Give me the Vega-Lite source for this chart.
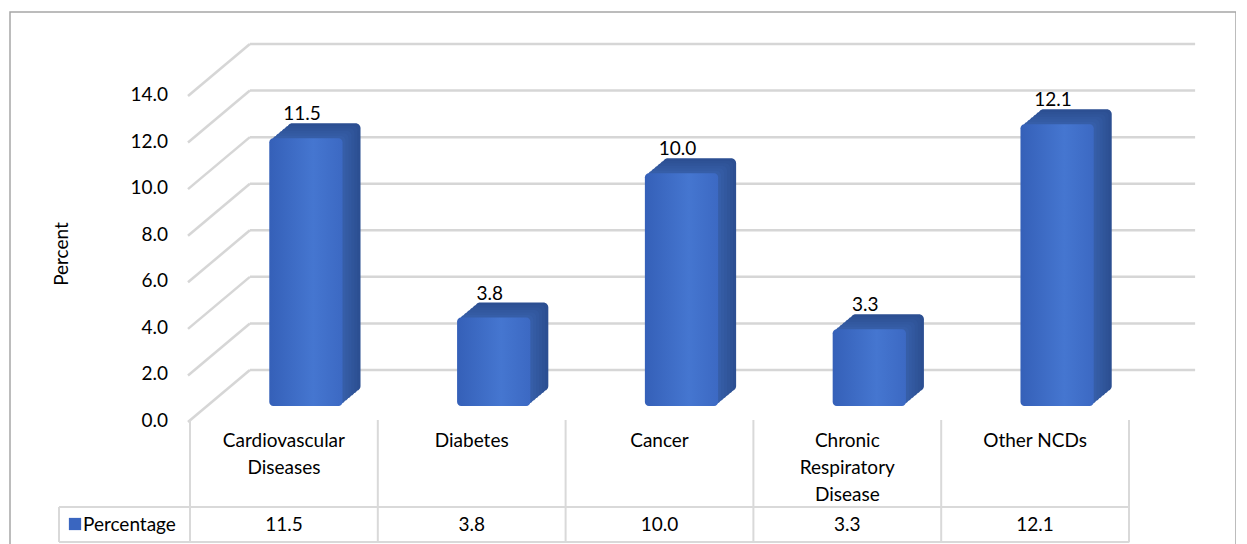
{
  "$schema": "https://vega.github.io/schema/vega-lite/v6.json",
  "autosize": {"type": "none"},
  "padding": {"left": 10, "top": 12, "right": 0, "bottom": 0},
  "width": 1226,
  "height": 540,
  "background": "white",
  "config": {
    "view": {"stroke": "#A6A6A6", "strokeWidth": 1.5},
    "font": "Lato",
    "text": {"font": "Lato", "fontSize": 19, "color": "#000000"}
  },
  "datasets": {
    "bars": [
      {"cat": "Cardiovascular Diseases", "label": "Cardiovascular\nDiseases", "value": 11.5},
      {"cat": "Diabetes", "label": "Diabetes", "value": 3.8},
      {"cat": "Cancer", "label": "Cancer", "value": 10.0},
      {"cat": "Chronic Respiratory Disease", "label": "Chronic\nRespiratory\nDisease", "value": 3.3},
      {"cat": "Other NCDs", "label": "Other NCDs", "value": 12.1}
    ],
    "ticks": [{"t": 0}, {"t": 2}, {"t": 4}, {"t": 6}, {"t": 8}, {"t": 10}, {"t": 12}, {"t": 14}]
  },
  "layer": [
    {
      "data": {"name": "ticks"},
      "mark": {"type": "rule", "color": "#D6D6D6", "strokeWidth": 2.5, "yOffset": -36, "xOffset": 60, "x2Offset": 160},
      "encoding": {
        "x": {"datum": "Cardiovascular Diseases", "type": "nominal", "bandPosition": 0,
              "scale": {"domain": ["Cardiovascular Diseases", "Diabetes", "Cancer", "Chronic Respiratory Disease", "Other NCDs"], "range": [180, 1119], "paddingInner": 0, "paddingOuter": 0},
              "axis": null},
        "x2": {"datum": "Other NCDs"},
        "y": {"field": "t", "type": "quantitative",
              "scale": {"domain": [0, 14], "range": [394, 68], "nice": false, "zero": false},
              "axis": null}
      }
    },
    {
      "data": {"name": "ticks"},
      "mark": {"type": "rule", "color": "#D6D6D6", "strokeWidth": 2.5, "yOffset": 16, "y2Offset": -36, "xOffset": -2, "x2Offset": -34},
      "encoding": {
        "x": {"datum": "Cardiovascular Diseases", "type": "nominal", "bandPosition": 0, "axis": null},
        "x2": {"datum": "Cardiovascular Diseases"},
        "y": {"field": "t", "type": "quantitative", "axis": null},
        "y2": {"field": "t"}
      }
    },
    {
      "data": {"name": "ticks"},
      "mark": {"type": "text", "align": "right", "baseline": "middle", "xOffset": -22, "yOffset": 15},
      "encoding": {
        "x": {"datum": "Cardiovascular Diseases", "type": "nominal", "bandPosition": 0, "axis": null},
        "y": {"field": "t", "type": "quantitative", "axis": null},
        "text": {"field": "t", "type": "quantitative", "format": ".1f"}
      }
    },
    {
      "data": {"values": [{"title": "Percent"}]},
      "mark": {"type": "text", "align": "center", "baseline": "middle", "angle": 270, "xOffset": -128, "yOffset": 11},
      "encoding": {
        "x": {"datum": "Cardiovascular Diseases", "type": "nominal", "bandPosition": 0, "axis": null},
        "y": {"datum": 7, "type": "quantitative", "axis": null},
        "text": {"field": "title", "type": "nominal"}
      }
    },
    {
      "data": {"name": "bars"},
      "mark": {"type": "bar", "color": "#2C4F92", "width": {"band": 0.39}, "xOffset": 40, "yOffset": -15, "y2Offset": -15, "cornerRadius": 5},
      "encoding": {
        "x": {"field": "cat", "type": "nominal", "axis": null},
        "y": {"field": "value", "type": "quantitative", "axis": null},
        "y2": {"datum": 0}
      }
    },
    {
      "data": {"name": "bars"},
      "mark": {"type": "bar", "color": "#2E5296", "width": {"band": 0.39}, "xOffset": 37, "yOffset": -12.5, "y2Offset": -12.5, "cornerRadius": 5},
      "encoding": {
        "x": {"field": "cat", "type": "nominal", "axis": null},
        "y": {"field": "value", "type": "quantitative", "axis": null},
        "y2": {"datum": 0}
      }
    },
    {
      "data": {"name": "bars"},
      "mark": {"type": "bar", "color": "#30559A", "width": {"band": 0.39}, "xOffset": 34, "yOffset": -10, "y2Offset": -10, "cornerRadius": 5},
      "encoding": {
        "x": {"field": "cat", "type": "nominal", "axis": null},
        "y": {"field": "value", "type": "quantitative", "axis": null},
        "y2": {"datum": 0}
      }
    },
    {
      "data": {"name": "bars"},
      "mark": {"type": "bar", "color": "#32589F", "width": {"band": 0.39}, "xOffset": 31, "yOffset": -7.5, "y2Offset": -7.5, "cornerRadius": 5},
      "encoding": {
        "x": {"field": "cat", "type": "nominal", "axis": null},
        "y": {"field": "value", "type": "quantitative", "axis": null},
        "y2": {"datum": 0}
      }
    },
    {
      "data": {"name": "bars"},
      "mark": {"type": "bar", "color": "#345BA3", "width": {"band": 0.39}, "xOffset": 28, "yOffset": -5, "y2Offset": -5, "cornerRadius": 5},
      "encoding": {
        "x": {"field": "cat", "type": "nominal", "axis": null},
        "y": {"field": "value", "type": "quantitative", "axis": null},
        "y2": {"datum": 0}
      }
    },
    {
      "data": {"name": "bars"},
      "mark": {"type": "bar", "color": "#365EA8", "width": {"band": 0.39}, "xOffset": 25, "yOffset": -2.5, "y2Offset": -2.5, "cornerRadius": 5},
      "encoding": {
        "x": {"field": "cat", "type": "nominal", "axis": null},
        "y": {"field": "value", "type": "quantitative", "axis": null},
        "y2": {"datum": 0}
      }
    },
    {
      "data": {"name": "bars"},
      "mark": {"type": "bar", "width": {"band": 0.39}, "xOffset": 22, "cornerRadius": 4,
               "color": {"gradient": "linear", "x1": 0, "y1": 0, "x2": 1, "y2": 0,
                         "stops": [{"offset": 0, "color": "#3560B8"}, {"offset": 0.6, "color": "#4576D0"}, {"offset": 1, "color": "#3C69C3"}]}},
      "encoding": {
        "x": {"field": "cat", "type": "nominal", "axis": null},
        "y": {"field": "value", "type": "quantitative", "axis": null},
        "y2": {"datum": 0}
      }
    },
    {
      "data": {"name": "bars"},
      "mark": {"type": "text", "xOffset": 18, "yOffset": -18, "baseline": "alphabetic", "align": "center"},
      "encoding": {
        "x": {"field": "cat", "type": "nominal", "axis": null},
        "y": {"field": "value", "type": "quantitative", "axis": null},
        "text": {"field": "value", "type": "quantitative", "format": ".1f"}
      }
    },
    {
      "data": {"name": "bars"},
      "mark": {"type": "rule", "color": "#D9D9D9", "strokeWidth": 2, "yOffset": 14, "y2Offset": 136},
      "encoding": {
        "x": {"field": "cat", "type": "nominal", "bandPosition": 0, "axis": null},
        "y": {"datum": 0, "type": "quantitative", "axis": null},
        "y2": {"datum": 0}
      }
    },
    {
      "data": {"name": "bars"},
      "mark": {"type": "rule", "color": "#D9D9D9", "strokeWidth": 2, "yOffset": 14, "y2Offset": 136},
      "encoding": {
        "x": {"datum": "Other NCDs", "type": "nominal", "bandPosition": 1, "axis": null},
        "y": {"datum": 0, "type": "quantitative", "axis": null},
        "y2": {"datum": 0}
      }
    },
    {
      "data": {"name": "bars"},
      "mark": {"type": "rule", "color": "#D9D9D9", "strokeWidth": 2, "xOffset": -131, "yOffset": 101, "y2Offset": 136},
      "encoding": {
        "x": {"datum": "Cardiovascular Diseases", "type": "nominal", "bandPosition": 0, "axis": null},
        "y": {"datum": 0, "type": "quantitative", "axis": null},
        "y2": {"datum": 0}
      }
    },
    {
      "data": {"name": "bars"},
      "mark": {"type": "rule", "color": "#D9D9D9", "strokeWidth": 2, "xOffset": -131, "x2Offset": 94, "yOffset": 101},
      "encoding": {
        "x": {"datum": "Cardiovascular Diseases", "type": "nominal", "bandPosition": 0, "axis": null},
        "x2": {"datum": "Other NCDs"},
        "y": {"datum": 0, "type": "quantitative", "axis": null}
      }
    },
    {
      "data": {"name": "bars"},
      "mark": {"type": "rule", "color": "#D9D9D9", "strokeWidth": 2, "xOffset": -131, "x2Offset": 94, "yOffset": 136},
      "encoding": {
        "x": {"datum": "Cardiovascular Diseases", "type": "nominal", "bandPosition": 0, "axis": null},
        "x2": {"datum": "Other NCDs"},
        "y": {"datum": 0, "type": "quantitative", "axis": null}
      }
    },
    {
      "data": {"name": "bars"},
      "mark": {"type": "text", "yOffset": 26, "baseline": "top", "align": "center", "lineBreak": "\n", "lineHeight": 27},
      "encoding": {
        "x": {"field": "cat", "type": "nominal", "axis": null},
        "y": {"datum": 0, "type": "quantitative", "axis": null},
        "text": {"field": "label", "type": "nominal"}
      }
    },
    {
      "data": {"name": "bars"},
      "mark": {"type": "text", "yOffset": 119, "baseline": "middle", "align": "center"},
      "encoding": {
        "x": {"field": "cat", "type": "nominal", "axis": null},
        "y": {"datum": 0, "type": "quantitative", "axis": null},
        "text": {"field": "value", "type": "quantitative", "format": ".1f"}
      }
    },
    {
      "data": {"values": [{"s": "Percentage"}]},
      "mark": {"type": "point", "shape": "square", "filled": true, "size": 150, "color": "#3A66C0", "opacity": 1, "xOffset": -115, "yOffset": 118},
      "encoding": {
        "x": {"datum": "Cardiovascular Diseases", "type": "nominal", "bandPosition": 0, "axis": null},
        "y": {"datum": 0, "type": "quantitative", "axis": null}
      }
    },
    {
      "data": {"values": [{"s": "Percentage"}]},
      "mark": {"type": "text", "xOffset": -107, "yOffset": 119, "baseline": "middle", "align": "left"},
      "encoding": {
        "x": {"datum": "Cardiovascular Diseases", "type": "nominal", "bandPosition": 0, "axis": null},
        "y": {"datum": 0, "type": "quantitative", "axis": null},
        "text": {"field": "s", "type": "nominal"}
      }
    }
  ]
}
